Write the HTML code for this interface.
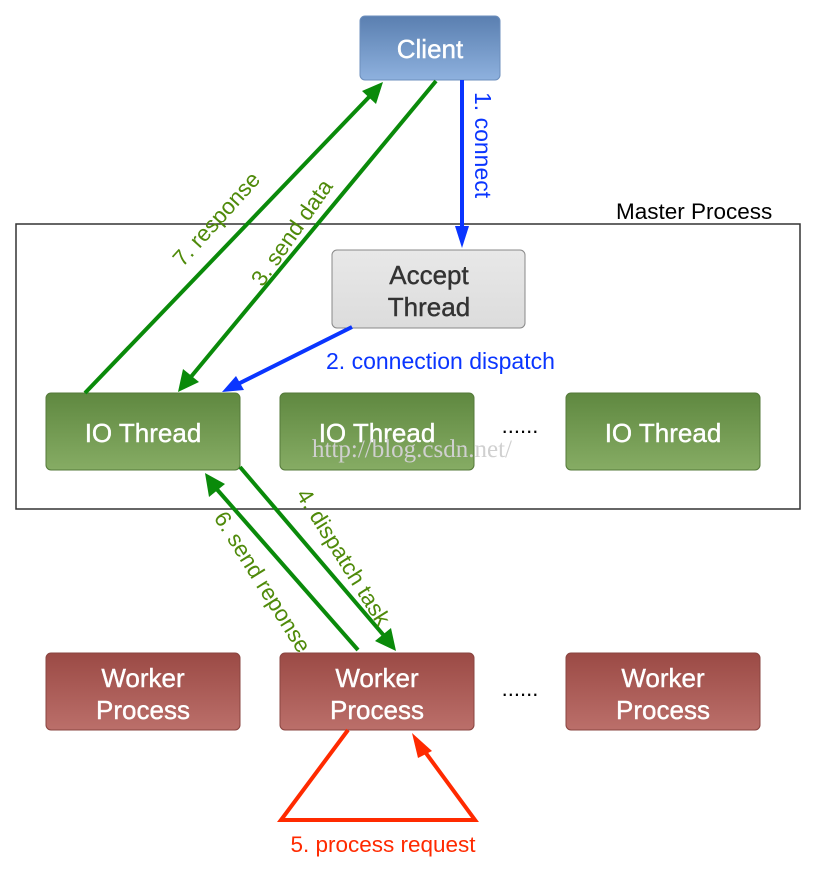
<!DOCTYPE html>
<html><head><meta charset="utf-8"><style>
body{margin:0;background:#fff;width:816px;height:878px;overflow:hidden}
</style></head><body>
<svg width="816" height="878" xmlns="http://www.w3.org/2000/svg" font-family="Liberation Sans, sans-serif">
<defs>
<linearGradient id="gb" x1="0" y1="0" x2="0" y2="1"><stop offset="0" stop-color="#5a7fb0"/><stop offset="1" stop-color="#8eb1de"/></linearGradient>
<linearGradient id="gg" x1="0" y1="0" x2="0" y2="1"><stop offset="0" stop-color="#5f8840"/><stop offset="1" stop-color="#86ac64"/></linearGradient>
<linearGradient id="gr" x1="0" y1="0" x2="0" y2="1"><stop offset="0" stop-color="#9b4a45"/><stop offset="1" stop-color="#bb6f6a"/></linearGradient>
<linearGradient id="gw" x1="0" y1="0" x2="0" y2="1"><stop offset="0" stop-color="#e8e8e8"/><stop offset="1" stop-color="#dcdcdc"/></linearGradient>
</defs>
<rect x="16" y="224" width="784" height="285" fill="none" stroke="#333" stroke-width="1.5"/>
<text x="616" y="219" font-size="22.5" fill="#000">Master Process</text>
<rect x="360" y="16" width="140" height="64" rx="5" fill="url(#gb)" stroke="#6d8fbd"/>
<text x="430" y="58" font-size="26" fill="#fff" text-anchor="middle" stroke="#fff" stroke-width="0.4">Client</text>
<rect x="332" y="250" width="193" height="78" rx="5" fill="url(#gw)" stroke="#888"/>
<text x="429" y="284" font-size="26" fill="#333" text-anchor="middle" stroke="#333" stroke-width="0.4">Accept</text>
<text x="429" y="316" font-size="26" fill="#333" text-anchor="middle" stroke="#333" stroke-width="0.4">Thread</text>
<g fill="url(#gg)" stroke="#557a3a">
<rect x="46" y="393" width="194" height="77" rx="5"/><rect x="280" y="393" width="194" height="77" rx="5"/><rect x="566" y="393" width="194" height="77" rx="5"/></g>
<g font-size="26" fill="#fff" text-anchor="middle" stroke="#fff" stroke-width="0.4">
<text x="143" y="442">IO Thread</text><text x="377" y="442">IO Thread</text><text x="663" y="442">IO Thread</text></g>
<text x="520" y="433" font-size="22" text-anchor="middle">......</text>
<text x="312" y="457" font-size="25" fill="#d0d0d0" font-family="Liberation Serif, serif">http://blog.csdn.net/</text>
<g fill="url(#gr)" stroke="#8a4540">
<rect x="46" y="653" width="194" height="77" rx="5"/><rect x="280" y="653" width="194" height="77" rx="5"/><rect x="566" y="653" width="194" height="77" rx="5"/></g>
<g font-size="26" fill="#fff" text-anchor="middle" stroke="#fff" stroke-width="0.4">
<text x="143" y="687">Worker</text><text x="143" y="719">Process</text>
<text x="377" y="687">Worker</text><text x="377" y="719">Process</text>
<text x="663" y="687">Worker</text><text x="663" y="719">Process</text></g>
<text x="520" y="696" font-size="22" text-anchor="middle">......</text>
<line x1="462" y1="80" x2="462" y2="230" stroke="#0a35ff" stroke-width="4"/>
<path d="M455,226 L469,226 L462,248z" fill="#0a35ff"/>
<text transform="translate(475,92) rotate(90)" font-size="23" fill="#0a35ff">1. connect</text>
<line x1="352" y1="327" x2="238" y2="384" stroke="#0a35ff" stroke-width="4"/>
<path d="M222,392 L236,376 L244,390z" fill="#0a35ff"/>
<text x="326" y="369" font-size="23" fill="#0a35ff">2. connection dispatch</text>
<g stroke="#0a8a0a" stroke-width="4">
<line x1="436" y1="81" x2="190" y2="378"/>
<line x1="85" y1="393" x2="370" y2="96"/>
<line x1="240" y1="467" x2="386" y2="638"/>
<line x1="358" y1="650" x2="214" y2="486"/>
</g>
<path d="M178,392 L183,369 L199,382z" fill="#0a8a0a"/>
<path d="M383,82 L376,104 L362,91z" fill="#0a8a0a"/>
<path d="M396,651 L375,641 L391,628z" fill="#0a8a0a"/>
<path d="M205,473 L225,484 L209,497z" fill="#0a8a0a"/>
<g font-size="22.5" fill="#4f8a0a">
<text transform="translate(222,224) rotate(-48)" text-anchor="middle">7. response</text>
<text transform="translate(298,237) rotate(-55)" text-anchor="middle">3. send data</text>
<text transform="translate(337,561) rotate(58)" text-anchor="middle">4. dispatch task</text>
<text transform="translate(256,586) rotate(58)" text-anchor="middle">6. send reponse</text>
</g>
<path d="M348,730 L281,820 L475,820 L420,745" fill="none" stroke="#ff2a00" stroke-width="4"/>
<path d="M412,733 L432,751 L418,758z" fill="#ff2a00"/>
<text x="383" y="852" font-size="22.5" fill="#ff2a00" text-anchor="middle">5. process request</text>
</svg>
</body></html>
